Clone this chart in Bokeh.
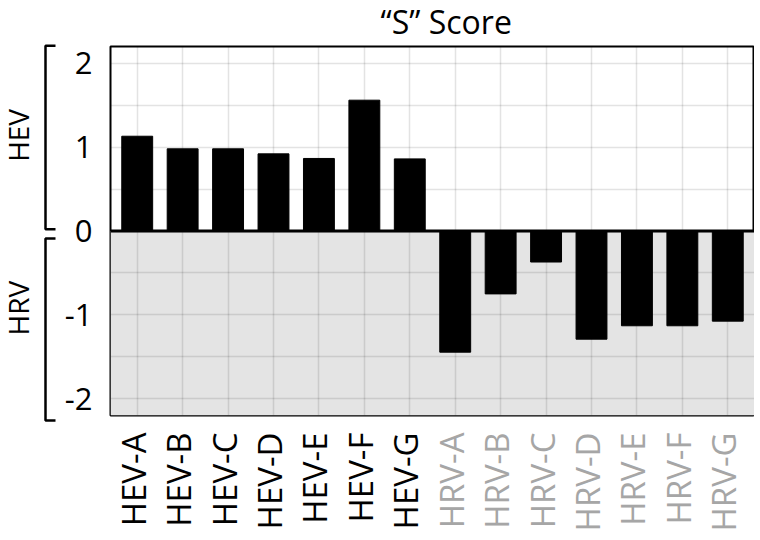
import math
from bokeh.plotting import figure
from bokeh.layouts import row, column
from bokeh.models import (ColumnDataSource, FixedTicker, BoxAnnotation, Span,
                          Range1d, FactorRange)
from bokeh.core.properties import value
from bokeh.embed import file_html
from bokeh.resources import INLINE

categories = ["HEV-A", "HEV-B", "HEV-C", "HEV-D", "HEV-E", "HEV-F", "HEV-G",
              "HRV-A", "HRV-B", "HRV-C", "HRV-D", "HRV-E", "HRV-F", "HRV-G"]
scores = [1.13, 0.98, 0.98, 0.92, 0.865, 1.56, 0.86,
          -1.445, -0.75, -0.37, -1.29, -1.13, -1.13, -1.075]
label_colors = ["#000000"] * 7 + ["#a6a6a6"] * 7
y_ticks = [-2, -1, 0, 1, 2]
y_tick_labels = {-2: "-2", -1: "-1", 0: "0", 1: "1", 2: "2"}
grid_ticks = [-2, -1.5, -1, -0.5, 0, 0.5, 1, 1.5, 2]
y_min, y_max = -2.2, 2.2
title_text = "\u201cS\u201d Score"
group_labels = ["HEV", "HRV"]
group_label_y = [1.14, -0.92]
hev_bracket = (2.21, 0.02)
hrv_bracket = (-0.09, -2.26)

FONT = "Open Sans"

# layout sizes (px)
TITLE_H = 42
TOP_PAD = 4
FRAME_W, FRAME_H = 644, 369
BOTTOM_PAD = 12
LABELS_H = 108
LEFT_W = 58
AXIS_W = 52
TOTAL_H = TITLE_H + TOP_PAD + FRAME_H + BOTTOM_PAD + LABELS_H

src = ColumnDataSource(dict(cat=categories, score=scores, color=label_colors,
                            ylab=[LABELS_H - 5] * len(categories)))

def bare(fig):
    fig.grid.visible = False
    fig.outline_line_color = None
    return fig

# title panel (frame aligned with the main plot frame)
pt = bare(figure(x_range=Range1d(0, FRAME_W), y_range=Range1d(0, TITLE_H),
                 frame_width=FRAME_W, frame_height=TITLE_H,
                 min_border_left=AXIS_W, min_border_right=0,
                 min_border_top=0, min_border_bottom=0,
                 toolbar_location=None, output_backend="svg",
                 x_axis_location=None, y_axis_location=None))
pt.text(x=[270], y=[TITLE_H - 20.5], text=[title_text], text_align="left",
        text_baseline="middle", text_font=value(FONT),
        text_font_size="32px", text_color="black")

# main plot
p = figure(x_range=FactorRange(*categories, range_padding=0.088,
                               range_padding_units="absolute"),
           y_range=Range1d(y_min, y_max),
           frame_width=FRAME_W, frame_height=FRAME_H,
           min_border_left=AXIS_W, min_border_right=0, min_border_top=TOP_PAD,
           min_border_bottom=BOTTOM_PAD, toolbar_location=None,
           output_backend="svg", x_axis_location=None)

p.add_layout(BoxAnnotation(top=0, bottom=y_min, fill_color="#e4e4e4",
                           fill_alpha=1, line_color=None, level="image"))

p.vbar(x="cat", top="score", bottom=0, width=0.68, source=src,
       fill_color="black", line_color="black")

p.add_layout(Span(location=0, dimension="width", line_color="black",
                  line_width=3))

p.ygrid.ticker = FixedTicker(ticks=grid_ticks)
p.grid.grid_line_color = "black"
p.grid.grid_line_alpha = 0.11
p.grid.grid_line_width = 1.5

p.yaxis.ticker = FixedTicker(ticks=y_ticks)
p.yaxis.major_label_overrides = y_tick_labels
p.yaxis.axis_line_color = None
p.yaxis.major_tick_line_color = None
p.yaxis.minor_tick_line_color = None
p.yaxis.major_tick_out = 0
p.yaxis.major_tick_in = 0
p.yaxis.major_label_standoff = 18
p.yaxis.major_label_text_font = FONT
p.yaxis.major_label_text_font_size = "31px"
p.yaxis.major_label_text_color = "black"

p.outline_line_color = "black"
p.outline_line_width = 2

# category labels panel below the plot
pl = bare(figure(x_range=p.x_range, y_range=Range1d(0, LABELS_H),
                 frame_width=FRAME_W, frame_height=LABELS_H, min_border_left=AXIS_W,
                 min_border_right=0, min_border_top=0, min_border_bottom=0,
                 toolbar_location=None, output_backend="svg",
                 x_axis_location=None, y_axis_location=None))
pl.text(x="cat", y="ylab", text="cat", source=src, angle=math.pi / 2,
        text_align="right", text_baseline="middle", text_font=value(FONT),
        text_font_size="33px", text_color="color", x_offset=-4)

# left brackets panel, same vertical scale as the main plot
scale = FRAME_H / (y_max - y_min)
left_top = y_max + (TITLE_H + TOP_PAD) / scale
left_bot = left_top - TOTAL_H / scale
p0 = bare(figure(x_range=Range1d(0, LEFT_W), y_range=Range1d(left_bot, left_top),
                 frame_width=LEFT_W, frame_height=TOTAL_H, min_border=0,
                 toolbar_location=None, output_backend="svg",
                 x_axis_location=None, y_axis_location=None))

for top, bot in (hev_bracket, hrv_bracket):
    p0.line(x=[55, 45, 45, 55], y=[top, top, bot, bot],
            line_color="black", line_width=2.5)
p0.text(x=[17, 17], y=group_label_y, text=group_labels,
        angle=math.pi / 2, text_align="center", text_baseline="middle",
        text_font=value(FONT), text_font_size="28px", text_color="black")

layout = row(p0, column(pt, p, pl, spacing=0), spacing=0)
open("out.html", "w").write(file_html(layout, INLINE))
